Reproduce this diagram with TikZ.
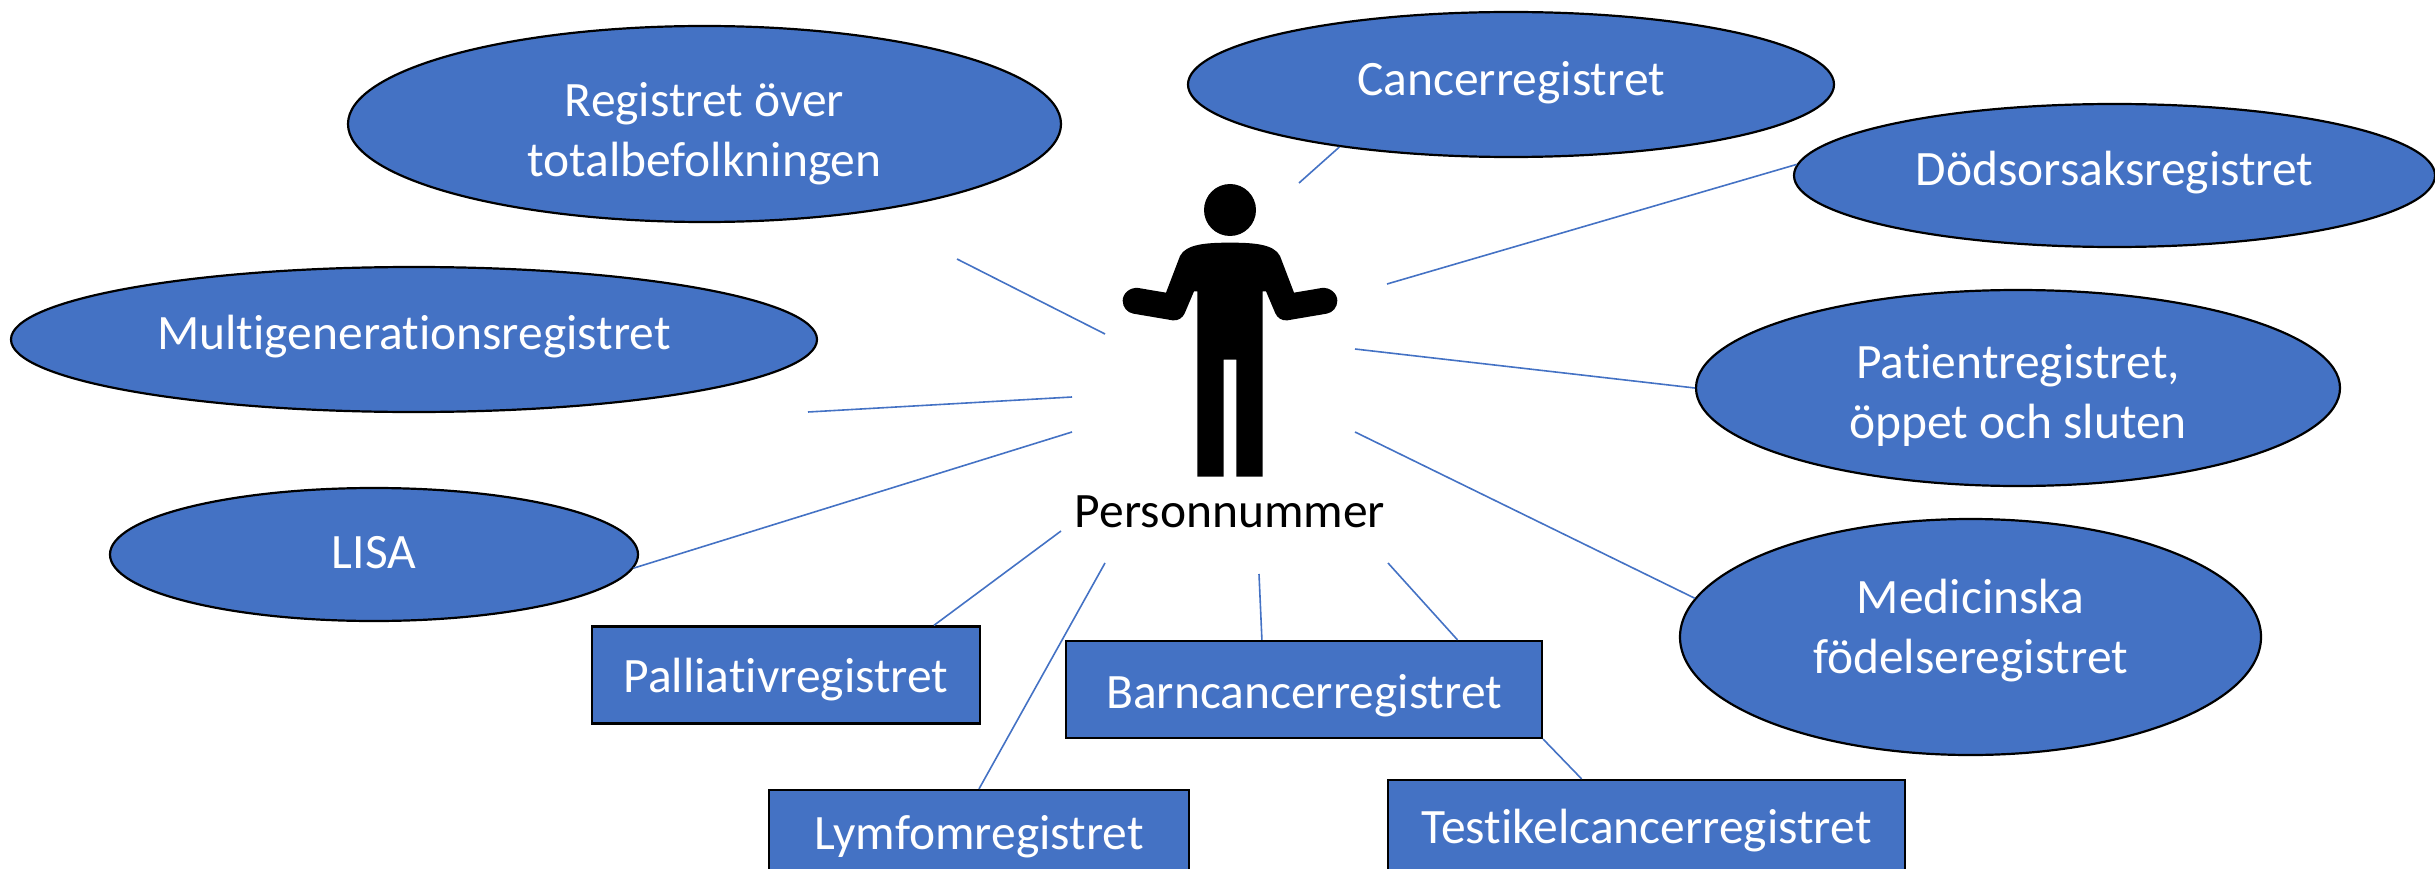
\documentclass[tikz,border=0pt]{standalone}
\usepackage{fontspec}
\setmainfont[Ligatures=CommonOff]{Carlito}
\usetikzlibrary{shapes.geometric,calc}
\definecolor{regblue}{HTML}{4472C4}
\tikzset{
  reg/.style={fill=regblue,draw=black,line width=2.2pt,inner sep=0pt},
  oval/.style={reg,ellipse},
  box/.style={reg,rectangle},
  regtext/.style={inner sep=0pt,text=white,align=center,font=\fontsize{49.5}{60}\selectfont},
  link/.style={draw=regblue,line width=1.6pt},
}
\begin{document}
\begin{tikzpicture}[x=1pt,y=-1pt]
\useasboundingbox (0,0) rectangle (2435,869);
% free ends
\coordinate (fReg) at (957,259);
\coordinate (fMul) at (808,412);
\coordinate (pReg) at (1105,334);
\coordinate (pCan) at (1299,183);
\coordinate (pDod) at (1387,284);
\coordinate (pPat) at (1355,349);
\coordinate (pMed) at (1355,432);
\coordinate (pMul) at (1072,397);
\coordinate (pLis) at (1072,432);
\coordinate (pPal) at (1061,531);
\coordinate (pLym) at (1105,563);
\coordinate (pBa1) at (1259,574);
\coordinate (pBa2) at (1388,563);
% links
\draw[link] (pReg) -- (fReg);
\draw[link] (pMul) -- (fMul);
% ovals
\node[oval,minimum width=713pt,minimum height=196pt] (reg) at (704.5,124) {};
\node[oval,minimum width=646pt,minimum height=145pt] (can) at (1511,84.5) {};
\node[oval,minimum width=641pt,minimum height=143pt] (dod) at (2114.5,175.5) {};
\node[oval,minimum width=644pt,minimum height=196pt] (pat) at (2018,388) {};
\node[oval,minimum width=581pt,minimum height=236pt] (med) at (1970.5,637) {};
\node[oval,minimum width=806pt,minimum height=145pt] (mul) at (414,339.5) {};
\node[oval,minimum width=528pt,minimum height=133pt] (lis) at (374,554.5) {};
% boxes
\node[box,minimum width=388pt,minimum height=97pt] (pal) at (786,675) {};
\node[box,minimum width=476pt,minimum height=97pt] (bar) at (1304,689.5) {};
\node[box,minimum width=420pt,minimum height=97pt] (lym) at (979,838.5) {};
\node[box,minimum width=517pt,minimum height=97pt] (tes) at (1646.5,828.5) {};
% labels
\node[regtext] (regT) at ($(reg.center)+(0,10)$) {Registret över\\totalbefolkningen};
\node[regtext] (canT) at ($(can.center)+(0,-2)$) {Cancerregistret};
\node[regtext] (dodT) at ($(dod.center)+(0,-3)$) {Dödsorsaksregistret};
\node[regtext] (patT) at ($(pat.center)+(0,7)$) {Patientregistret,\\öppet och sluten};
\node[regtext] (medT) at ($(med.center)+(0,-6)$) {Medicinska\\födelseregistret};
\node[regtext] (mulT) at ($(mul.center)+(0,-3)$) {Multigenerationsregistret};
\node[regtext] (lisT) at ($(lis.center)+(0,-2)$) {LISA};
\node[regtext] (palT) at ($(pal.center)+(0,5)$) {Palliativregistret};
\node[regtext] (barT) at ($(bar.center)+(0,6)$) {Barncancerregistret};
\node[regtext] (lymT) at ($(lym.center)+(0,-2)$) {Lymfomregistret};
\node[regtext] (tesT) at ($(tes.center)+(0,2)$) {Testikelcancerregistret};
% connectors
\draw[link] (pCan) -- (can.200);
\draw[link] (pDod) -- (dod.178);
\draw[link] (pPat) -- (pat.west);
\draw[link] (pMed) -- (med.172.6);
\draw[link] (pLis) -- (lis.-3.2);
\draw[link] (pPal) -- ($(pal.north west)!0.879!(pal.north east)$);
\draw[link] (pLym) -- (lym.north);
\draw[link] (pBa1) -- ($(bar.north west)!0.412!(bar.north east)$);
\draw[link] (pBa2) -- ($(bar.north west)!0.821!(bar.north east)$);
\draw[link] (bar.south east) -- ($(tes.north west)!0.375!(tes.north east)$);
% person
\begin{scope}[shift={(1050,150)},x=0.33333pt,y=-0.33333pt]
  \fill[black] (540,180) circle [radius=78pt*0.33333];
  \fill[black] (540,278)
    .. controls (610,278) and (672,282) .. (690,318)
    -- (732,428) -- (815,414)
    .. controls (840,411) and (862,430) .. (862,452)
    .. controls (862,472) and (848,488) .. (830,491)
    -- (712,511)
    .. controls (695,513) and (682,503) .. (676,490)
    -- (648,424) -- (638,424)
    -- (638,980) -- (559,980) -- (559,629) -- (521,629) -- (521,980) -- (442,980)
    -- (442,424) -- (432,424)
    -- (404,490)
    .. controls (398,503) and (385,513) .. (368,511)
    -- (250,491)
    .. controls (232,488) and (218,472) .. (218,452)
    .. controls (218,430) and (240,411) .. (265,414)
    -- (348,428) -- (390,318)
    .. controls (408,282) and (470,278) .. (540,278) -- cycle;
\end{scope}
\node[anchor=base,inner sep=0pt,text=black,font=\fontsize{49.5}{60}\selectfont] (num) at (1230,527) {Personnummer};
\end{tikzpicture}
\end{document}
